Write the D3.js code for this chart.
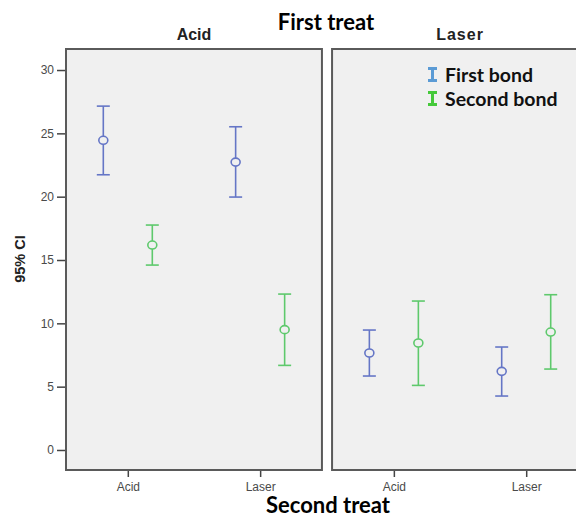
<!DOCTYPE html>
<html>
<head>
<meta charset="utf-8">
<script src="https://cdnjs.cloudflare.com/ajax/libs/d3/7.8.5/d3.min.js"></script>
<style>
  body { margin: 0; background: #fff; }
  svg { display: block; }
  .tick text { font-family: "Liberation Sans", Arial, sans-serif; font-size: 12px; fill: #4a4a4a; }
  .tick line { stroke: #444; stroke-width: 1.5; }
</style>
</head>
<body>
<script>
// categories
var firstTreats = ["Acid", "Laser"];
var secondTreats = ["Acid", "Laser"];
var series = ["First bond", "Second bond"];
var yTicks = [0, 5, 10, 15, 20, 25, 30];

// order: (Acid,Acid), (Acid,Laser), (Laser,Acid), (Laser,Laser) = (first treat, second treat)
var firstBondMean = [24.45, 22.73, 7.66, 6.21];
var firstBondLow = [21.73, 19.97, 5.84, 4.26];
var firstBondHigh = [27.15, 25.52, 9.47, 8.13];
var secondBondMean = [16.18, 9.5, 8.45, 9.31];
var secondBondLow = [14.6, 6.68, 5.1, 6.39];
var secondBondHigh = [17.76, 12.31, 11.76, 12.26];

function main(){

	var w = 576;
	var h = 517;

	var barColors = ["#6576c6", "#5ec96c"];
	var legendColors = ["#5b9bd5", "#45c93a"];

	var svg = d3.select("body")
				.append("svg")
				.attr("width", w)
				.attr("height", h);

	var top = 49, bottom = 470;

	var y = d3.scaleLinear()
		.domain([-1.58, 31.66])
		.range([bottom, top]);

	var panel = d3.scaleBand()
		.domain(firstTreats)
		.range([66, 588])
		.paddingInner(0.038);

	var x = d3.scalePoint()
		.domain(secondTreats)
		.range([0, panel.bandwidth()])
		.padding(0.467);

	var off = d3.scaleBand()
		.domain(series)
		.range([-49, 49]);

	// build rows from the arrays
	var rows = [];
	var means = [firstBondMean, secondBondMean];
	var lows = [firstBondLow, secondBondLow];
	var highs = [firstBondHigh, secondBondHigh];
	firstTreats.forEach(function(f, i){
		secondTreats.forEach(function(s, j){
			series.forEach(function(se, k){
				var idx = i * 2 + j;
				rows.push({first: f, second: s, series: se, k: k,
					mean: means[k][idx], low: lows[k][idx], high: highs[k][idx]});
			});
		});
	});

	firstTreats.forEach(function(f){
		var g = svg.append("g")
			.attr("transform", "translate(" + panel(f) + ",0)");

		g.append("rect")
			.attr("x", 0)
			.attr("y", top)
			.attr("width", panel.bandwidth())
			.attr("height", bottom - top)
			.attr("fill", "#f0f0f0")
			.attr("stroke", "#5a5a5a")
			.attr("stroke-width", 2);

		g.append("text")
			.text(f)
			.attr("x", panel.bandwidth() / 2)
			.attr("y", 40)
			.attr("text-anchor", "middle")
			.attr("font-family", "Liberation Sans, Arial, sans-serif")
			.attr("font-weight", "bold")
			.attr("font-size", 16)
			.attr("letter-spacing", f == "Laser" ? 1 : 0)
			.attr("fill", "#222");

		var xa = g.append("g")
			.attr("transform", "translate(0," + (bottom + 1) + ")")
			.call(d3.axisBottom(x).tickSize(6).tickPadding(5));
		xa.select(".domain").remove();

		var pts = rows.filter(function(d){ return d.first == f; });

		var bars = g.selectAll(".bar")
			.data(pts)
			.enter()
			.append("g")
			.attr("class", "bar")
			.attr("transform", function(d){
				return "translate(" + (x(d.second) + off(d.series) + off.bandwidth() / 2) + ",0)";
			})
			.attr("stroke", function(d){ return barColors[d.k]; })
			.attr("stroke-width", 1.6)
			.attr("fill", "none");

		bars.append("line")
			.attr("y1", function(d){ return y(d.low); })
			.attr("y2", function(d){ return y(d.high); });
		bars.append("line")
			.attr("x1", -6.5).attr("x2", 6.5)
			.attr("y1", function(d){ return y(d.low); })
			.attr("y2", function(d){ return y(d.low); });
		bars.append("line")
			.attr("x1", -6.5).attr("x2", 6.5)
			.attr("y1", function(d){ return y(d.high); })
			.attr("y2", function(d){ return y(d.high); });
		bars.append("ellipse")
			.attr("cy", function(d){ return y(d.mean); })
			.attr("rx", 4.5)
			.attr("ry", 4)
			.attr("fill", "#f0f0f0");
	});

	// y axis
	var ya = svg.append("g")
		.attr("transform", "translate(" + (panel("Acid") - 1) + ",0)")
		.call(d3.axisLeft(y).tickValues(yTicks).tickSize(8).tickPadding(3));
	ya.select(".domain").remove();

	svg.append("text")
		.text("95% CI")
		.attr("transform", "translate(25,259) rotate(-90)")
		.attr("text-anchor", "middle")
		.attr("font-family", "Liberation Sans, Arial, sans-serif")
		.attr("font-weight", "bold")
		.attr("font-size", 14.5)
		.attr("fill", "#222");

	svg.append("text")
		.text("First treat")
		.attr("x", 326)
		.attr("y", 30)
		.attr("text-anchor", "middle")
		.attr("font-family", "Lato, sans-serif")
		.attr("font-weight", "bold")
		.attr("font-size", 22)
		.attr("fill", "#000");

	svg.append("text")
		.text("Second treat")
		.attr("x", 328)
		.attr("y", 513)
		.attr("text-anchor", "middle")
		.attr("font-family", "Lato, sans-serif")
		.attr("font-weight", "bold")
		.attr("font-size", 22)
		.attr("fill", "#000");

	// legend
	var lg = svg.selectAll(".legend")
		.data(series)
		.enter()
		.append("g")
		.attr("class", "legend")
		.attr("transform", function(d, i){ return "translate(428," + (67 + i * 24) + ")"; });

	lg.append("rect").attr("x", 0).attr("y", 0).attr("width", 9).attr("height", 3)
		.attr("fill", function(d, i){ return legendColors[i]; });
	lg.append("rect").attr("x", 3).attr("y", 0).attr("width", 3).attr("height", 15)
		.attr("fill", function(d, i){ return legendColors[i]; });
	lg.append("rect").attr("x", 0).attr("y", 12).attr("width", 9).attr("height", 3)
		.attr("fill", function(d, i){ return legendColors[i]; });
	lg.append("text")
		.text(function(d){ return d; })
		.attr("x", 17)
		.attr("y", 14.5)
		.attr("font-family", "Lato, sans-serif")
		.attr("font-weight", "bold")
		.attr("font-size", 19.5)
		.attr("fill", "#111");
}

main();
</script>
</body>
</html>
